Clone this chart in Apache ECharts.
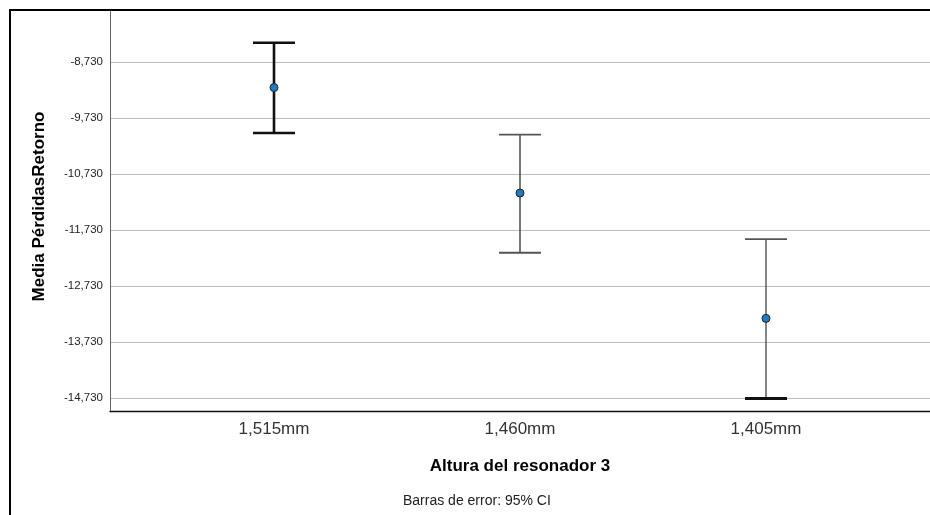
<!DOCTYPE html>
<html>
<head>
<meta charset="utf-8">
<style>
  html, body { margin: 0; padding: 0; background: #fff; }
  #chart { width: 930px; height: 515px; }
</style>
<script src="https://cdn.jsdelivr.net/npm/echarts@6/dist/echarts.min.js"></script>
</head>
<body>
<div id="chart"></div>
<script>
// Resonator heights (categories)
const categories = ['1,515mm', '1,460mm', '1,405mm'];
// Mean return loss per group and its 95% CI bounds
const means = [-9.186, -11.069, -13.307];
const ciUpper = [-8.387, -10.027, -11.892];
const ciLower = [-9.996, -12.135, -14.737];
// Y-axis tick values
const yTicks = [-14.73, -13.73, -12.73, -11.73, -10.73, -9.73, -8.73, -7.73];

// Stroke for each error bar: [stem, top cap, bottom cap]
const barStrokes = [
  [{ c: '#111', w: 2.6 }, { c: '#111', w: 2.6 }, { c: '#111', w: 2.6 }],
  [{ c: '#555', w: 1.6 }, { c: '#555', w: 1.8 }, { c: '#555', w: 1.8 }],
  [{ c: '#444', w: 1.3 }, { c: '#555', w: 1.8 }, { c: '#111', w: 3 }]
];

const FONT = 'Liberation Sans, Arial, sans-serif';
const fmt = v => v.toFixed(3).replace('.', ',');

const chart = echarts.init(document.getElementById('chart'), null, { renderer: 'canvas' });

const ciData = categories.map((c, i) => [i, ciUpper[i], ciLower[i]]);
const meanData = categories.map((c, i) => [i, means[i]]);

chart.setOption({
  backgroundColor: '#fff',
  animation: false,
  textStyle: { fontFamily: FONT },
  grid: { left: 110, right: 0, top: 0, height: 411, containLabel: false },
  xAxis: {
    type: 'value',
    min: -2 / 3,
    max: 8 / 3,
    name: 'Altura del resonador 3',
    nameLocation: 'middle',
    nameGap: 47,
    nameTextStyle: { fontSize: 17, fontWeight: 'bold', color: '#000' },
    axisLine: { show: true, onZero: false, lineStyle: { color: '#111', width: 1.3 } },
    axisTick: { show: false, customValues: [0, 1, 2] },
    splitLine: { show: false },
    axisLabel: {
      customValues: [0, 1, 2],
      formatter: v => categories[Math.round(v)],
      fontSize: 17,
      color: '#333',
      margin: 10
    }
  },
  yAxis: {
    type: 'value',
    min: -14.96,
    max: -14.96 + 411 / 56.3,
    name: 'Media PérdidasRetorno',
    nameLocation: 'middle',
    nameGap: 62,
    nameTextStyle: { fontSize: 17, fontWeight: 'bold', color: '#000' },
    axisLine: { show: true, onZero: false, lineStyle: { color: '#666', width: 1 } },
    axisTick: { show: false, customValues: yTicks },
    axisLabel: {
      customValues: yTicks,
      formatter: fmt,
      fontSize: 11.5,
      color: '#222',
      margin: 7
    },
    splitLine: { show: true, lineStyle: { color: '#bbb', width: 1 } }
  },
  series: [
    {
      type: 'custom',
      data: ciData,
      z: 3,
      renderItem: function (params, api) {
        const i = api.value(0);
        const top = api.coord([i, api.value(1)]);
        const bot = api.coord([i, api.value(2)]);
        const half = 21;
        const s = barStrokes[params.dataIndex];
        return {
          type: 'group',
          children: [
            { type: 'line', shape: { x1: top[0], y1: top[1], x2: bot[0], y2: bot[1] },
              style: { stroke: s[0].c, lineWidth: s[0].w } },
            { type: 'line', shape: { x1: top[0] - half, y1: top[1], x2: top[0] + half, y2: top[1] },
              style: { stroke: s[1].c, lineWidth: s[1].w } },
            { type: 'line', shape: { x1: bot[0] - half, y1: bot[1], x2: bot[0] + half, y2: bot[1] },
              style: { stroke: s[2].c, lineWidth: s[2].w } }
          ]
        };
      }
    },
    {
      type: 'scatter',
      data: meanData,
      z: 4,
      symbol: 'circle',
      symbolSize: 8,
      itemStyle: { color: '#1f7cc4', borderColor: '#222', borderWidth: 1, opacity: 1 }
    }
  ],
  graphic: [
    // white strip above the frame hides the clipped top of the plot
    { type: 'rect', z: 100, shape: { x: 0, y: 0, width: 930, height: 9 }, style: { fill: '#fff' } },
    { type: 'rect', z: 100, shape: { x: 0, y: 0, width: 9, height: 515 }, style: { fill: '#fff' } },
    { type: 'polyline', z: 101,
      shape: { points: [[10, 515], [10, 10], [930, 10]] },
      style: { stroke: '#000', lineWidth: 2, fill: null } },
    { type: 'text', z: 101, left: 403, top: 494,
      style: { text: 'Barras de error: 95% CI', fontSize: 14, fill: '#222', fontFamily: FONT } }
  ]
});
</script>
</body>
</html>
